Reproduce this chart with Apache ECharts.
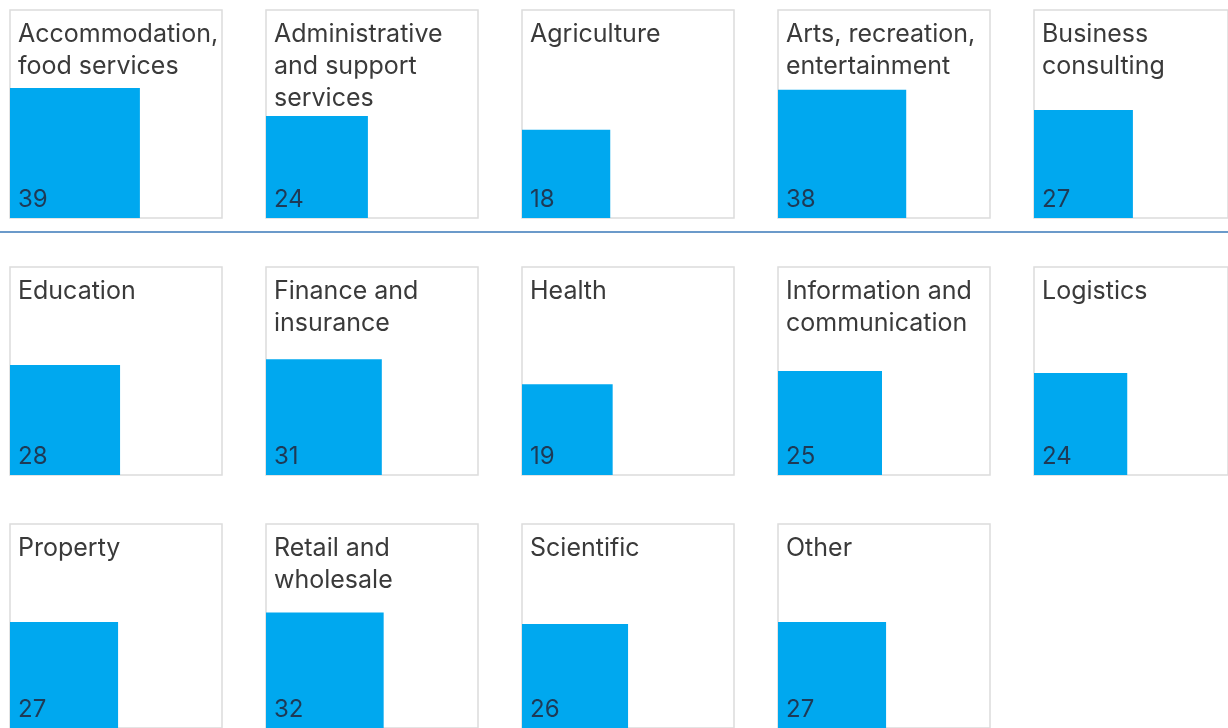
<!DOCTYPE html>
<html>
<head>
<meta charset="utf-8">
<script src="https://cdn.jsdelivr.net/npm/echarts@6/dist/echarts.min.js"></script>
<style>
  html, body { margin: 0; padding: 0; background: #fff; }
  #chart { width: 1228px; height: 728px; }
</style>
</head>
<body>
<div id="chart"></div>
<script>
// industries, in reading order
const categories = [
  'Accommodation,\nfood services',
  'Administrative\nand support\nservices',
  'Agriculture',
  'Arts, recreation,\nentertainment',
  'Business\nconsulting',
  'Education',
  'Finance and\ninsurance',
  'Health',
  'Information and\ncommunication',
  'Logistics',
  'Property',
  'Retail and\nwholesale',
  'Scientific',
  'Other'
];
const values = [39, 24, 18, 38, 27, 28, 31, 19, 25, 24, 27, 32, 26, 27];

// panel layout
const colX = [10, 266, 522, 778, 1034];
const rowY = [10, 267, 524];
const panelW = 212;
const panelH = 208;
const pxPerUnit = 20.8; // square side = pxPerUnit * sqrt(value)
const barColor = '#00a8ef';
const font = 'Inter, "Liberation Sans", Arial, sans-serif';

const grids = [];
const xAxes = [];
const yAxes = [];
const titles = [];
const series = [];

categories.forEach((name, i) => {
  const x = colX[i % 5];
  const y = rowY[Math.floor(i / 5)];
  grids.push({
    left: x,
    top: y,
    width: panelW,
    height: panelH,
    show: true,
    borderColor: '#dcdcdc',
    borderWidth: 1.5,
    backgroundColor: '#fff'
  });
  xAxes.push({ gridIndex: i, type: 'value', min: 0, max: panelW / pxPerUnit, show: false });
  yAxes.push({ gridIndex: i, type: 'value', min: 0, max: panelH / pxPerUnit, show: false });
  titles.push({
    text: name,
    left: x + 3,
    top: y + 3,
    textStyle: {
      fontFamily: font,
      fontSize: 25,
      fontWeight: 'normal',
      lineHeight: 32,
      color: '#3a3a3a'
    }
  });
  series.push({
    type: 'custom',
    xAxisIndex: i,
    yAxisIndex: i,
    silent: true,
    data: [[values[i]]],
    renderItem: (params, api) => {
      const v = api.value(0);
      const s = Math.sqrt(v);
      const p0 = api.coord([0, 0]);
      const p1 = api.coord([s, s]);
      return {
        type: 'group',
        children: [
          {
            type: 'rect',
            shape: { x: p0[0], y: p1[1], width: p1[0] - p0[0], height: p0[1] - p1[1] },
            style: { fill: barColor }
          },
          {
            type: 'text',
            style: {
              text: String(v),
              x: p0[0] + 8,
              y: p0[1] - 6,
              verticalAlign: 'bottom',
              fill: '#1e3a56',
              fontSize: 24,
              fontFamily: font
            }
          }
        ]
      };
    }
  });
});

const chart = echarts.init(document.getElementById('chart'));
chart.setOption({
  animation: false,
  backgroundColor: '#fff',
  title: titles,
  grid: grids,
  xAxis: xAxes,
  yAxis: yAxes,
  series: series,
  graphic: [
    {
      type: 'line',
      shape: { x1: 0, y1: 232, x2: 1228, y2: 232 },
      style: { stroke: '#3a78b8', lineWidth: 1.5 }
    }
  ]
});
</script>
</body>
</html>
